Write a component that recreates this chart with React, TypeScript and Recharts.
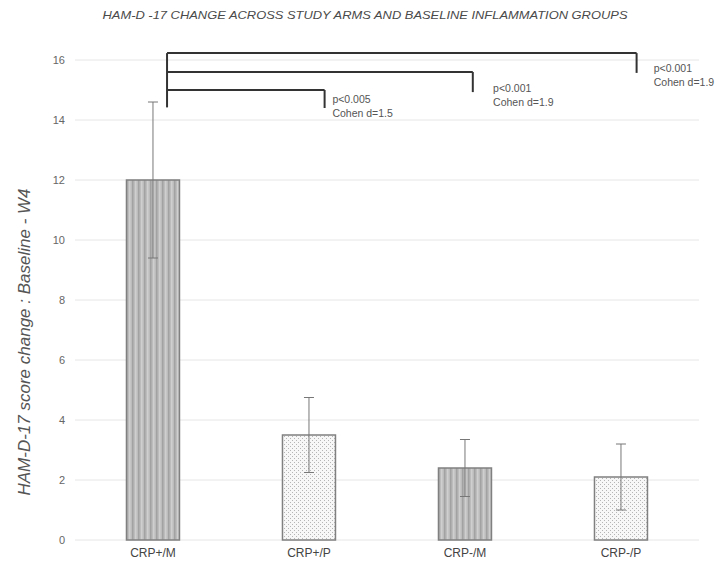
import React from 'react';
import { BarChart, Bar, XAxis, YAxis, CartesianGrid, ErrorBar, Cell, ReferenceLine, ReferenceDot } from 'recharts';

const categories = ['CRP+/M', 'CRP+/P', 'CRP-/M', 'CRP-/P'];
const meanChange = [12.0, 3.5, 2.4, 2.1];
const sdChange = [2.6, 1.25, 0.95, 1.1];
const yTicks = [0, 2, 4, 6, 8, 10, 12, 14, 16];

// comparison brackets: x in category-index units, y in score units
const bracketFrom = 0.09;
const bracketTo = [1.1, 2.05, 3.1];
const bracketLevel = [15.0, 15.6, 16.23];
const bracketDrop = [14.4, 14.93, 15.57];
const bracketFloor = 14.42;
const pValues = ['p<0.005', 'p<0.001', 'p<0.001'];
const cohenD = ['Cohen d=1.5', 'Cohen d=1.9', 'Cohen d=1.9'];
const noteX = [1.15, 2.18, 3.21];
const noteY = [14.7, 15.07, 15.73];

const data = categories.map((name, i) => ({
  name,
  pos: i,
  value: meanChange[i],
  err: sdChange[i],
}));

const FONT = '"Liberation Sans", Arial, sans-serif';

// striped = medication arms, dotted = placebo arms
const barFill = (i: number) => (i % 2 === 0 ? 'url(#stripes)' : 'url(#dots)');

const Note = (i: number) => (props: any) => {
  const { cx, cy } = props;
  return (
    <text x={cx} y={cy} fill="#555" fontSize={10.5} fontFamily={FONT}>
      <tspan x={cx} dy="0.35em">{pValues[i]}</tspan>
      <tspan x={cx} dy="1.35em">{cohenD[i]}</tspan>
    </text>
  );
};

export default function App() {
  return (
    <div style={{ position: 'absolute', left: 0, top: 0, width: 723, height: 567, background: '#fff' }}>
      <BarChart
        width={723}
        height={567}
        data={data}
        margin={{ top: 60, right: 24, left: 0, bottom: 0 }}
        barCategoryGap="33%"
      >
        <defs>
          <pattern id="stripes" width="6" height="6" patternUnits="userSpaceOnUse">
            <rect width="6" height="6" fill="#bcbcbc" />
            <rect x="0" width="1.5" height="6" fill="#a2a2a2" />
            <rect x="3" width="1.5" height="6" fill="#cfcfcf" />
          </pattern>
          <pattern id="dots" width="4" height="4" patternUnits="userSpaceOnUse">
            <rect width="4" height="4" fill="#f7f7f7" />
            <rect x="0" y="0" width="1" height="1" fill="#b5b5b5" />
            <rect x="2" y="2" width="1" height="1" fill="#b5b5b5" />
          </pattern>
        </defs>
        <CartesianGrid vertical={false} stroke="#e6e6e6" />
        <XAxis
          dataKey="name"
          axisLine={false}
          tickLine={false}
          height={27}
          tick={{ fill: '#444', fontSize: 12, fontFamily: FONT }}
        />
        <XAxis xAxisId="num" dataKey="pos" type="number" domain={[-0.5, 3.5]} hide allowDataOverflow />
        <YAxis
          domain={[0, 16]}
          ticks={yTicks}
          width={75}
          axisLine={false}
          tickLine={false}
          tick={{ fill: '#666', fontSize: 11, fontFamily: FONT }}
          tickMargin={4}
        />
        <Bar dataKey="value" stroke="#808080" strokeWidth={1.5} isAnimationActive={false}>
          {data.map((d, i) => (
            <Cell key={d.name} fill={barFill(i)} />
          ))}
          <ErrorBar dataKey="err" stroke="#777" strokeWidth={1} width={5} isAnimationActive={false} />
        </Bar>
        <ReferenceLine
          xAxisId="num"
          segment={[{ x: bracketFrom, y: bracketLevel[2] }, { x: bracketFrom, y: bracketFloor }]}
          stroke="#333"
          strokeWidth={2}
          ifOverflow="visible"
        />
        {bracketTo.map((x2, i) => (
          <ReferenceLine
            key={'h' + i}
            xAxisId="num"
            segment={[{ x: bracketFrom, y: bracketLevel[i] }, { x: x2, y: bracketLevel[i] }]}
            stroke="#333"
            strokeWidth={2}
            ifOverflow="visible"
          />
        ))}
        {bracketTo.map((x2, i) => (
          <ReferenceLine
            key={'v' + i}
            xAxisId="num"
            segment={[{ x: x2, y: bracketLevel[i] }, { x: x2, y: bracketDrop[i] }]}
            stroke="#333"
            strokeWidth={2}
            ifOverflow="visible"
          />
        ))}
        {noteX.map((x, i) => (
          <ReferenceDot
            key={'n' + i}
            xAxisId="num"
            x={x}
            y={noteY[i]}
            r={1}
            ifOverflow="visible"
            shape={Note(i)}
          />
        ))}
      </BarChart>
      <svg width={723} height={567} style={{ position: 'absolute', left: 0, top: 0, pointerEvents: 'none' }}>
        <text
          x={365}
          y={19}
          textAnchor="middle"
          fill="#4a4a4a"
          fontSize={11}
          fontStyle="italic"
          fontFamily={FONT}
          textLength={525}
          lengthAdjust="spacingAndGlyphs"
        >
          HAM-D -17 CHANGE ACROSS  STUDY ARMS AND BASELINE INFLAMMATION GROUPS
        </text>
        <text
          x={30}
          y={342}
          textAnchor="middle"
          fill="#555"
          fontSize={17}
          fontStyle="italic"
          fontFamily={FONT}
          transform="rotate(-90 30 342)"
        >
          HAM-D-17 score change : Baseline - W4
        </text>
      </svg>
    </div>
  );
}
